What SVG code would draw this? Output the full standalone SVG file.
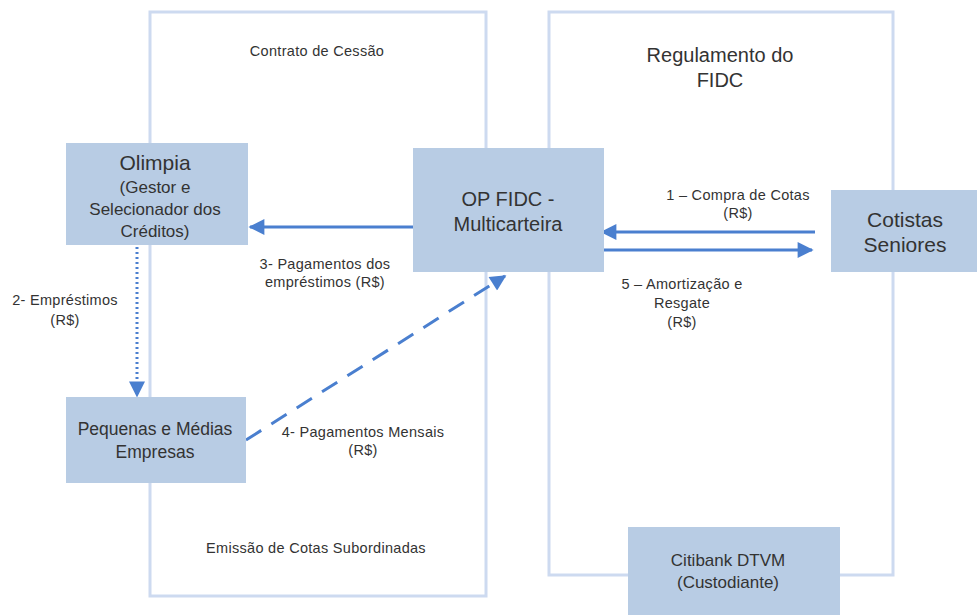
<svg xmlns="http://www.w3.org/2000/svg" width="977" height="615" viewBox="0 0 977 615">
<defs>
<style>
.cont{fill:none;stroke:#cddaf0;stroke-width:3}
.node{fill:#b8cce4}
.t{font-family:"Liberation Sans",Arial,sans-serif;fill:#333;text-anchor:middle}
.lbl{font-size:14.5px;letter-spacing:0.3px}
.conn{stroke:#4a7fcf;stroke-width:3;fill:none}
</style>
<marker id="ahb" viewBox="0 0 10 10" refX="9" refY="5" markerWidth="22" markerHeight="16" markerUnits="userSpaceOnUse" orient="auto">
<path d="M0,0 L10,5 L0,10 z" fill="#4a7fcf"/>
</marker>
</defs>
<rect width="977" height="615" fill="#fff"/>
<g id="containers">
<rect id="contrato" class="cont" x="150" y="12" width="336" height="584"/>
<rect id="regulamento" class="cont" x="549" y="12" width="344" height="563"/>
<text class="t lbl" x="317" y="56">Contrato de Cessão</text>
<text class="t" x="720" y="62" font-size="20">Regulamento do</text>
<text class="t" x="720" y="87" font-size="20">FIDC</text>
<text class="t lbl" x="316" y="553">Emissão de Cotas Subordinadas</text>
</g>
<g id="connectors">
<line class="conn" x1="413" y1="227" x2="250" y2="227" marker-end="url(#ahb)"/>
<line class="conn" x1="815" y1="232" x2="602" y2="232" marker-end="url(#ahb)"/>
<line class="conn" x1="604" y1="250" x2="812" y2="250" marker-end="url(#ahb)"/>
<line class="conn" x1="137" y1="247" x2="137" y2="396" stroke-dasharray="2 3" marker-end="url(#ahb)"/>
<line class="conn" x1="246" y1="440" x2="505" y2="276" stroke-width="2.5" stroke-dasharray="18 12" marker-end="url(#ahb)"/>
<text class="t lbl" x="325" y="269">3- Pagamentos dos</text>
<text class="t lbl" x="325" y="287">empréstimos (R$)</text>
<text class="t lbl" x="738" y="200">1 – Compra de Cotas</text>
<text class="t lbl" x="738" y="218">(R$)</text>
<text class="t lbl" x="682" y="289">5 – Amortização e</text>
<text class="t lbl" x="682" y="308">Resgate</text>
<text class="t lbl" x="682" y="327">(R$)</text>
<text class="t lbl" x="65" y="305">2- Empréstimos</text>
<text class="t lbl" x="65" y="325">(R$)</text>
<text class="t lbl" x="363" y="437">4- Pagamentos Mensais</text>
<text class="t lbl" x="363" y="455">(R$)</text>
</g>
<g id="olimpia">
<rect class="node" x="66" y="143" width="182" height="102"/>
<text class="t" x="155" y="170" font-size="21">Olimpia</text>
<text class="t" x="155" y="193" font-size="17">(Gestor e</text>
<text class="t" x="155" y="215" font-size="17">Selecionador dos</text>
<text class="t" x="155" y="237" font-size="17">Créditos)</text>
</g>
<g id="opfidc">
<rect class="node" x="413" y="148" width="191" height="124"/>
<text class="t" x="508" y="206" font-size="20">OP FIDC -</text>
<text class="t" x="508" y="231" font-size="20">Multicarteira</text>
</g>
<g id="cotistas">
<rect class="node" x="831" y="190" width="146" height="82"/>
<text class="t" x="905" y="227" font-size="21">Cotistas</text>
<text class="t" x="905" y="252" font-size="21">Seniores</text>
</g>
<g id="pequenas">
<rect class="node" x="66" y="397" width="180" height="86"/>
<text class="t" x="155" y="435" font-size="17.5">Pequenas e Médias</text>
<text class="t" x="155" y="458" font-size="17.5">Empresas</text>
</g>
<g id="citibank">
<rect class="node" x="628" y="527" width="212" height="88"/>
<text class="t" x="728" y="566" font-size="17">Citibank DTVM</text>
<text class="t" x="728" y="588" font-size="17">(Custodiante)</text>
</g>
</svg>
